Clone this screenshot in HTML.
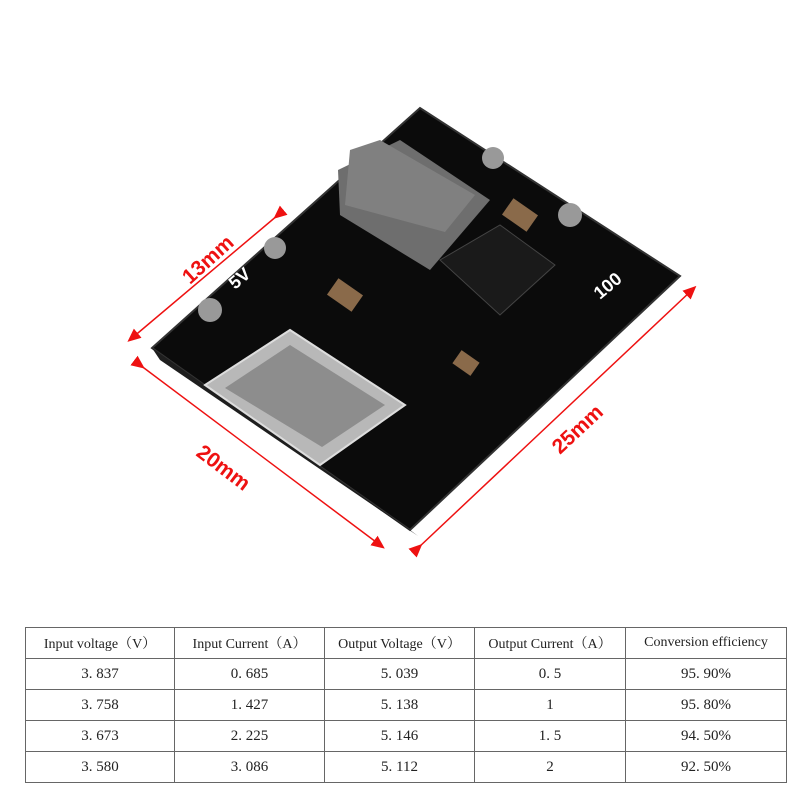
<!DOCTYPE html>
<html><head><meta charset="utf-8"><style>
body{margin:0;background:#fff;width:800px;height:800px;overflow:hidden;position:relative;font-family:"Liberation Serif","Noto Serif CJK SC",serif}
svg{position:absolute;left:0;top:0}
table{position:absolute;left:25px;top:627px;border-collapse:collapse;width:761px;table-layout:fixed}
td{border:1px solid #666;height:30px;padding:0 2px;text-align:center;font-size:15px;color:#222;white-space:nowrap;overflow:hidden}
tr:first-child td{font-size:14px}
</style></head><body>
<svg width="800" height="600" viewBox="0 0 800 600">
<defs><marker id="a" markerWidth="10" markerHeight="10" refX="5" refY="5" orient="auto"><path d="M0,1 L9,5 L0,9 z" fill="#e11"/></marker></defs>
<polygon points="152,348 420,108 680,276 410,530" fill="#0b0b0b" stroke="#333" stroke-width="2"/>
<polygon points="152,348 160,360 418,536 410,530" fill="#1e1e1e"/>
<polygon points="338,170 400,140 490,200 430,270 340,215" fill="#6e6e6e"/>
<polygon points="350,150 380,140 475,195 445,232 345,205" fill="#808080"/>
<polygon points="440,260 500,225 555,265 500,315" fill="#1a1a1a" stroke="#444"/>
<polygon points="205,385 290,330 405,405 320,465" fill="#b8b8b8" stroke="#ddd" stroke-width="2"/>
<polygon points="225,388 290,345 385,405 322,447" fill="#8d8d8d"/>
<rect x="330" y="285" width="30" height="20" fill="#8a6a4a" transform="rotate(35 345 295)"/>
<rect x="505" y="205" width="30" height="20" fill="#8a6a4a" transform="rotate(35 520 215)"/>
<rect x="455" y="355" width="22" height="16" fill="#8a6a4a" transform="rotate(35 466 363)"/>
<circle cx="210" cy="310" r="12" fill="#999"/><circle cx="275" cy="248" r="11" fill="#999"/>
<circle cx="493" cy="158" r="11" fill="#999"/><circle cx="570" cy="215" r="12" fill="#999"/>
<g stroke="#e11" stroke-width="1.5" fill="none">
<line x1="278" y1="215" x2="132" y2="338" marker-start="url(#a)" marker-end="url(#a)"/>
<line x1="140" y1="365" x2="380" y2="545" marker-start="url(#a)" marker-end="url(#a)"/>
<line x1="418" y1="548" x2="692" y2="290" marker-start="url(#a)" marker-end="url(#a)"/>
</g>
<g fill="#e11" font-family="Liberation Sans,sans-serif" font-weight="bold" font-size="21">
<text x="190" y="285" transform="rotate(-42 190 285)">13mm</text>
<text x="195" y="455" transform="rotate(37 195 455)">20mm</text>
<text x="560" y="455" transform="rotate(-43 560 455)">25mm</text>
</g>
<g fill="#fff" font-family="Liberation Sans,sans-serif" font-weight="bold" font-size="18">
<text x="235" y="290" transform="rotate(-40 235 290)">5V</text>
<text x="600" y="300" transform="rotate(-40 600 300)">100</text>
</g>
</svg>
<table>
<colgroup><col style="width:149px"><col style="width:150px"><col style="width:150px"><col style="width:151px"><col style="width:161px"></colgroup>
<tr><td>Input voltage（V）</td><td>Input Current（A）</td><td>Output Voltage（V）</td><td>Output Current（A）</td><td>Conversion efficiency</td></tr>
<tr><td>3. 837</td><td>0. 685</td><td>5. 039</td><td>0. 5</td><td>95. 90%</td></tr>
<tr><td>3. 758</td><td>1. 427</td><td>5. 138</td><td>1</td><td>95. 80%</td></tr>
<tr><td>3. 673</td><td>2. 225</td><td>5. 146</td><td>1. 5</td><td>94. 50%</td></tr>
<tr><td>3. 580</td><td>3. 086</td><td>5. 112</td><td>2</td><td>92. 50%</td></tr>
</table>
</body></html>
